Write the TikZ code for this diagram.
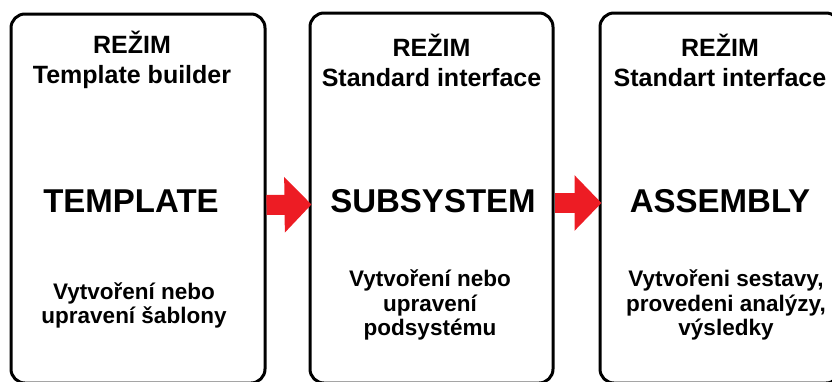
\documentclass[tikz,border=0pt]{standalone}
\usepackage{fontspec}
\setmainfont{Liberation Sans}
\usetikzlibrary{positioning, arrows.meta, calc}
\definecolor{flowred}{RGB}{237, 28, 36}
\tikzset{
  modebox/.style={
    draw=black,
    line width=3pt,
    rounded corners=14pt,
    fill=white,
    inner sep=0pt
  },
  modetitle/.style={
    align=center,
    font=\fontsize{25}{30}\selectfont\bfseries
  },
  modename/.style={
    font=\fontsize{33}{36}\selectfont\bfseries,
    anchor=base
  },
  modenote/.style={
    align=center,
    font=\fontsize{22.5}{24.5}\selectfont\bfseries
  },
  blockarrow/.style={
    draw=flowred,
    line width=20pt,
    -{Triangle[length=27pt, width=54pt]},
    shorten >=-3pt
  }
}

\begin{document}
\begin{tikzpicture}[x=1pt, y=1pt]
  \clip (0,0) rectangle (832,-381);

  % the three working modes
  \node[modebox, minimum width=254pt, minimum height=369pt] (tmpl) at (138,-198.5) {};
  \node[modebox, minimum width=243pt, minimum height=370pt] (sub) at (431.5,-198) {};
  \node[modebox, minimum width=240pt, minimum height=370pt] (asm) at (720,-198) {};

  \node[modetitle] (tmpl-mode) at (132,-60) {REŽIM\\Template builder};
  \node[modetitle] (sub-mode) at (431.5,-60) {REŽIM\\Standard interface};
  \node[modetitle] (asm-mode) at (720,-60) {REŽIM\\Standart interface};

  \node[modename] (tmpl-name) at (131,-212) {TEMPLATE};
  \node[modename] (sub-name) at (433,-212) {SUBSYSTEM};
  \node[modename] (asm-name) at (720,-212) {ASSEMBLY};

  \node[modenote] (tmpl-note) at (134,-305.5) {Vytvoření nebo\\upravení šablony};
  \node[modenote] (sub-note) at (430,-305) {Vytvoření nebo\\upravení\\podsystému};
  \node[modenote] (asm-note) at (726,-305) {Vytvořeni sestavy,\\provedeni analýzy,\\výsledky};

  % flow between the modes
  \draw[blockarrow] ($(tmpl.east)+(0,-6.5)$) -- ($(sub.west)+(0,-6.5)$);
  \draw[blockarrow] ($(sub.east)+(0,-5)$) -- ($(asm.west)+(0,-5)$);
\end{tikzpicture}
\end{document}
